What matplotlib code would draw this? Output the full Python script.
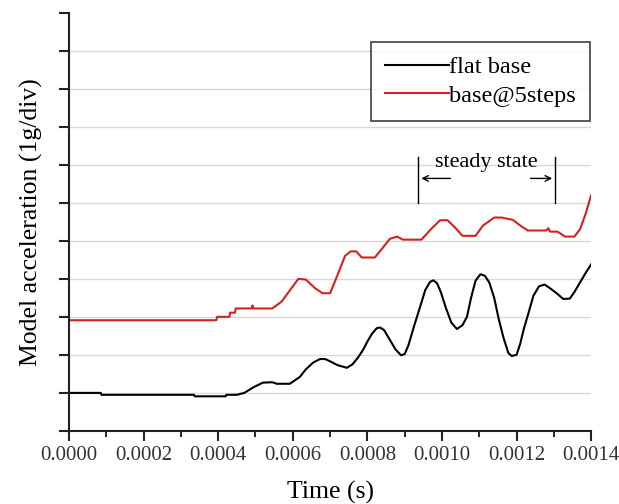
import numpy as np
import matplotlib.pyplot as plt
from matplotlib.ticker import MultipleLocator, FormatStrFormatter

# time in units of 1e-4 s, acceleration in divisions (1g/div)
flat_t = [0, 0.85, 0.87, 3.35, 3.37, 4.2, 4.22, 4.5, 4.7, 4.95, 5.2, 5.45, 5.57, 5.92,
          6.19, 6.35, 6.55, 6.73, 6.87, 7.0, 7.2, 7.45, 7.6, 7.75, 7.89, 8.0, 8.12, 8.25,
          8.34, 8.45, 8.6, 8.75, 8.9, 9.0, 9.1, 9.25, 9.41, 9.55, 9.68, 9.77, 9.87, 9.97,
          10.1, 10.25, 10.4, 10.55, 10.67, 10.78, 10.9, 11.03, 11.15, 11.27, 11.4, 11.52,
          11.65, 11.78, 11.87, 12.0, 12.1, 12.2, 12.32, 12.45, 12.6, 12.75, 12.9, 13.1,
          13.25, 13.43, 13.55, 13.7, 13.85, 14.0]
flat_a = [1.0, 1.0, 0.95, 0.95, 0.91, 0.91, 0.95, 0.95, 1.0, 1.15, 1.27, 1.28, 1.24, 1.24,
          1.42, 1.62, 1.8, 1.89, 1.89, 1.83, 1.73, 1.66, 1.75, 1.93, 2.14, 2.35, 2.55, 2.7,
          2.72, 2.65, 2.4, 2.15, 1.99, 2.02, 2.25, 2.75, 3.25, 3.7, 3.92, 3.96, 3.88, 3.65,
          3.25, 2.85, 2.68, 2.78, 3.0, 3.5, 3.95, 4.12, 4.08, 3.9, 3.5, 2.95,
          2.45, 2.05, 1.97, 2.0, 2.3, 2.7, 3.1, 3.55, 3.8, 3.85, 3.75, 3.6,
          3.47, 3.48, 3.65, 3.9, 4.15, 4.38]

step_t = [0, 3.95, 3.97, 4.3, 4.32, 4.45, 4.47, 4.9, 4.92, 4.94, 5.45, 5.7, 6.0, 6.15,
          6.35, 6.6, 6.8, 7.0, 7.2, 7.4, 7.55, 7.7, 7.85, 8.2, 8.4, 8.6, 8.8, 8.95, 9.45,
          9.7, 9.95, 10.15, 10.35, 10.55, 10.9, 11.1, 11.4, 11.6, 11.9, 12.1, 12.3, 12.8,
          12.85, 12.9, 13.1, 13.3, 13.55, 13.7, 13.85, 14.0]
step_a = [2.91, 2.91, 3.0, 3.0, 3.11, 3.11, 3.22, 3.22, 3.3, 3.22, 3.22, 3.4, 3.8, 4.0,
          3.98, 3.75, 3.62, 3.62, 4.1, 4.6, 4.72, 4.72, 4.56, 4.56, 4.8, 5.05, 5.11, 5.03, 5.03,
          5.3, 5.54, 5.54, 5.35, 5.13, 5.13, 5.4, 5.61, 5.61, 5.55, 5.4, 5.27, 5.27,
          5.33, 5.24, 5.24, 5.11, 5.11, 5.3, 5.7, 6.2]

steady_start = 9.37
steady_end = 13.03

plt.rcParams['font.family'] = ['Liberation Serif', 'DejaVu Serif']

fig = plt.figure(figsize=(6.19, 5.04), dpi=100)
ax = fig.add_axes([0.1115, 0.145, 0.8435, 0.83])

ax.plot(np.array(flat_t) * 1e-4, flat_a, color='black', lw=1.5, label='flat base')
ax.plot(np.array(step_t) * 1e-4, step_a, color='#d42020', lw=1.5, label='base@5steps')

ax.set_xlim(0, 0.0014)
ax.set_ylim(0, 11)
ax.xaxis.set_major_locator(MultipleLocator(0.0002))
ax.xaxis.set_minor_locator(MultipleLocator(0.0001))
ax.xaxis.set_major_formatter(FormatStrFormatter('%.4f'))
ax.yaxis.set_major_locator(MultipleLocator(1))
ax.set_yticklabels([])
ax.tick_params(axis='both', direction='out', width=1.5, length=7, labelsize=15, colors='#222222')
ax.tick_params(axis='x', which='minor', direction='out', width=1.2, length=4)
ax.tick_params(axis='x', labelcolor='#333333')

for s in ['top', 'right']:
    ax.spines[s].set_visible(False)
for s in ['left', 'bottom']:
    ax.spines[s].set_linewidth(1.5)
    ax.spines[s].set_color('#222222')

for yv in range(1, 11):
    ax.axhline(yv, color='#d8d8d8', lw=1, zorder=0)

ax.set_xlabel('Time (s)', fontsize=18.5, labelpad=12)
ax.set_ylabel('Model acceleration (1g/div)', fontsize=18.5, labelpad=8)

# steady state annotation
ax.plot([steady_start * 1e-4] * 2, [6.0, 7.2], color='black', lw=1)
ax.plot([steady_end * 1e-4] * 2, [6.0, 7.2], color='black', lw=1)
ax.annotate('', xy=(steady_start * 1e-4, 6.64), xytext=(10.3e-4, 6.64),
            arrowprops=dict(arrowstyle='->', color='black', lw=1))
ax.annotate('', xy=(steady_end * 1e-4, 6.64), xytext=(12.3e-4, 6.64),
            arrowprops=dict(arrowstyle='->', color='black', lw=1))
ax.text(11.2e-4, 7.05, 'steady state', fontsize=16, ha='center', va='center')

leg = ax.legend(loc='upper left', bbox_to_anchor=(0.599, 0.917), bbox_transform=fig.transFigure,
                fontsize=17.5, frameon=True, fancybox=False, edgecolor='#222222',
                handlelength=2.6, handletextpad=0.0, borderpad=0.6, labelspacing=0.25,
                borderaxespad=0)
leg.get_frame().set_linewidth(1.3)

fig.savefig('out.png', dpi=100)
